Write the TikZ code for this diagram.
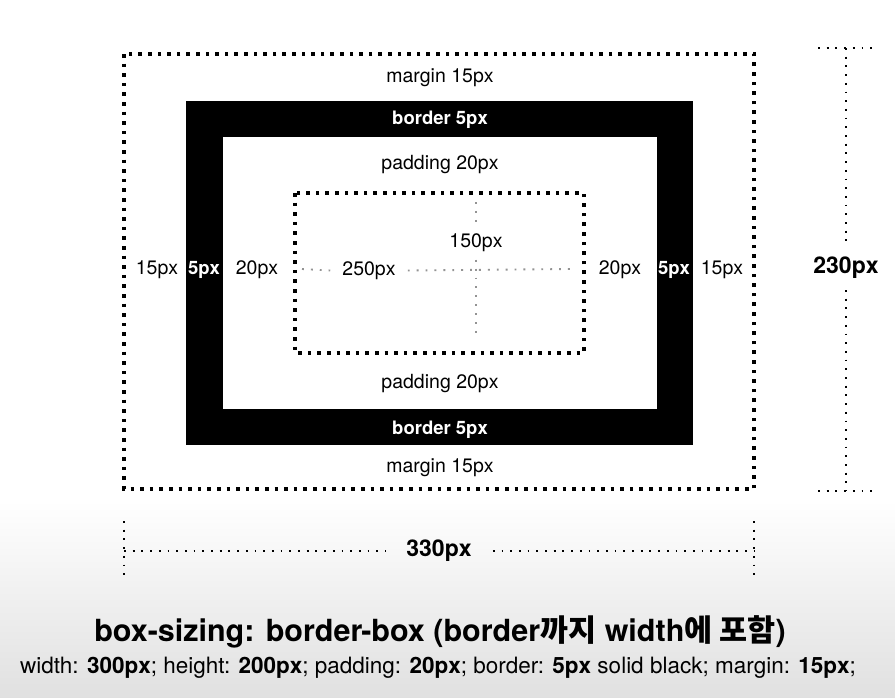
\documentclass[tikz,border=0pt]{standalone}
\usepackage{fontspec}
\setmainfont{TeX Gyre Heros}
\newfontfamily\krfont{Noto Sans CJK KR}
\usepackage{tikz}
\usepackage{xcolor}

\begin{document}
\begin{tikzpicture}[x=1pt,y=-1pt,
  marginline/.style={line width=3.6pt,dash pattern=on 3.6pt off 6pt},
  dimline/.style={line width=1.8pt,dash pattern=on 1.8pt off 6.9pt},
  centerline/.style={gray!85,line width=1.9pt,dash pattern=on 1.9pt off 7pt},
  lbl/.style={font=\fontsize{19.5}{21}\selectfont,inner sep=0pt,yshift=-1.5pt},
  bandlbl/.style={font=\fontsize{18.5}{21}\selectfont\bfseries,text=white,inner sep=0pt,yshift=-1.5pt},
  dimlbl/.style={font=\fontsize{23}{24}\selectfont\bfseries}]
\useasboundingbox (0,0) rectangle (895,697);
\fill[white] (0,0) rectangle (895,500);
\shade[top color=white,bottom color=gray!24] (0,500) rectangle (895,697);

\coordinate (mg-nw) at (124,54);
\coordinate (mg-se) at (754,489);
\coordinate (bd-nw) at (186,101);
\coordinate (bd-se) at (693,445);
\coordinate (pd-nw) at (223,137);
\coordinate (pd-se) at (657,409);
\coordinate (ct-nw) at (295,193);
\coordinate (ct-se) at (584,353);

\draw[marginline] (mg-nw) rectangle (mg-se);
\fill[black] (bd-nw) rectangle (bd-se);
\fill[white] (pd-nw) rectangle (pd-se);
\draw[marginline] (ct-nw) rectangle (ct-se);

\node[lbl] (margin-top) at (440,76) {margin 15px};
\node[bandlbl] (border-top) at (440,118) {border 5px};
\node[lbl] (padding-top) at (440,163) {padding 20px};
\node[lbl] (padding-bot) at (440,382) {padding 20px};
\node[bandlbl] (border-bot) at (440,428) {border 5px};
\node[lbl] (margin-bot) at (440,466) {margin 15px};

\node[lbl] (margin-left) at (157,268) {15px};
\node[bandlbl] (border-left) at (204,268) {5px};
\node[lbl] (padding-left) at (257,268) {20px};
\node[lbl] (padding-right) at (620,268) {20px};
\node[bandlbl] (border-right) at (674,268) {5px};
\node[lbl] (margin-right) at (722,268) {15px};

\coordinate (cw-l) at (302,269);
\coordinate (cw-r) at (572,269);
\coordinate (ch-t) at (476,202);
\coordinate (ch-b) at (476,338);
\node[lbl,inner xsep=12pt] (cw-lbl) at (369,269) {250px};
\node[lbl,inner ysep=8pt] (ch-lbl) at (476,241) {150px};
\draw[centerline] (cw-l) -- (cw-lbl.west);
\draw[centerline] (cw-lbl.east) -- (cw-r);
\draw[centerline] (ch-t) -- (ch-lbl.north);
\draw[centerline] (ch-lbl.south) -- (ch-b);

\coordinate (hd-t) at (846,48);
\coordinate (hd-b) at (846,491);
\node[dimlbl,inner ysep=11pt,inner xsep=0pt] (hd-lbl) at (846,268) {230px};
\draw[dimline] (818,48) -- (872,48);
\draw[dimline] (818,491) -- (872,491);
\draw[dimline] (hd-t) -- (hd-lbl.north);
\draw[dimline] (hd-lbl.south) -- (hd-b);

\coordinate (wd-l) at (124,551);
\coordinate (wd-r) at (754,551);
\node[dimlbl,inner xsep=21pt,inner ysep=0pt] (wd-lbl) at (439,551) {330px};
\draw[dimline] (124,521) -- (124,579);
\draw[dimline] (754,521) -- (754,579);
\draw[dimline] (wd-l) -- (wd-lbl.west);
\draw[dimline] (wd-lbl.east) -- (wd-r);

\node[font=\fontsize{30.5}{32}\selectfont\bfseries,inner sep=0pt] (title) at (440,632)
  {box-sizing: border-box (border{\krfont 까지} width{\krfont 에 포함})};
\node[font=\fontsize{22.5}{24}\selectfont,inner sep=0pt] (rule) at (438,668)
  {width: \textbf{300px}; height: \textbf{200px}; padding: \textbf{20px}; border: \textbf{5px} solid black; margin: \textbf{15px};};
\end{tikzpicture}
\end{document}
